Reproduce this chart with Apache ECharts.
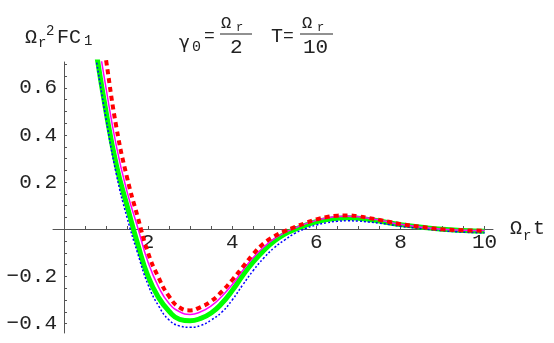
<!DOCTYPE html>
<html>
<head>
<meta charset="utf-8">
<script src="https://cdn.jsdelivr.net/npm/echarts@6/dist/echarts.min.js"></script>
<style>
  html, body { margin: 0; padding: 0; background: #fff; }
  #main { width: 554px; height: 343px; }
</style>
</head>
<body>
<div id="main"></div>
<script>
// time axis (Omega_r t)
var tValues = [0.75, 1, 1.25, 1.5, 1.75, 2, 2.25, 2.5, 2.75, 3, 3.25, 3.5, 3.75, 4, 4.25, 4.5, 4.75, 5,
  5.25, 5.5, 5.75, 6, 6.25, 6.5, 6.75, 7, 7.25, 7.5, 7.75, 8, 8.5, 9, 9.5, 10];

// curves
var greenVals = [0.775, 0.5, 0.27, 0.1, -0.06, -0.2, -0.29, -0.348, -0.382, -0.388, -0.378, -0.355, -0.315, -0.26,
  -0.196, -0.138, -0.09, -0.05, -0.02, 0.0, 0.018, 0.032, 0.041, 0.047, 0.049, 0.047, 0.042, 0.035, 0.027, 0.02,
  0.009, 0.0, -0.005, -0.008];
var blueVals = [0.74, 0.47, 0.23, 0.05, -0.1, -0.235, -0.325, -0.385, -0.41, -0.416, -0.408, -0.385, -0.352, -0.3,
  -0.236, -0.175, -0.122, -0.078, -0.045, -0.016, 0.004, 0.018, 0.028, 0.034, 0.036, 0.035, 0.031, 0.026, 0.02,
  0.013, 0.003, -0.006, -0.012, -0.015];
var magentaVals = [0.88, 0.6, 0.35, 0.16, 0.01, -0.14, -0.245, -0.315, -0.35, -0.361, -0.35, -0.325, -0.285, -0.235,
  -0.175, -0.12, -0.075, -0.04, -0.014, 0.006, 0.024, 0.038, 0.048, 0.054, 0.055, 0.053, 0.047, 0.039, 0.03, 0.021,
  0.009, 0.0, -0.004, -0.005];
var redVals = [1.02, 0.72, 0.43, 0.22, 0.055, -0.1, -0.205, -0.285, -0.332, -0.344, -0.33, -0.305, -0.265, -0.215,
  -0.16, -0.105, -0.06, -0.03, -0.008, 0.01, 0.027, 0.042, 0.052, 0.058, 0.059, 0.055, 0.048, 0.04, 0.031, 0.022,
  0.01, 0.0, -0.004, -0.006];

var xTicks = [0.5, 1, 1.5, 2, 2.5, 3, 3.5, 4, 4.5, 5, 5.5, 6, 6.5, 7, 7.5, 8, 8.5, 9, 9.5, 10];
var xLabels = [2, 4, 6, 8, 10];
var yTicks = [-0.4, -0.35, -0.3, -0.25, -0.2, -0.15, -0.1, -0.05, 0.05, 0.1, 0.15, 0.2, 0.25, 0.3, 0.35, 0.4,
  0.45, 0.5, 0.55, 0.6, 0.65, 0.7];
var yLabels = [-0.4, -0.2, 0.2, 0.4, 0.6];

var X_MIN = -0.26, X_MAX = 10.2;
var Y_MIN = -0.44, Y_MAX = 0.71;
var GRID_W = 440, GRID_H = 271;

function pairs(vals) {
  return tValues.map(function (t, i) { return [t, vals[i]]; });
}

var mono = 'Liberation Mono';
var ink = '#222';
var axisCol = '#555';

function txt(x, y, s, size, font) {
  return {
    type: 'text', x: x, y: y,
    style: { text: s, fontFamily: font || mono, fontSize: size, fill: ink, verticalAlign: 'middle' }
  };
}

var chart = echarts.init(document.getElementById('main'), null, { renderer: 'canvas' });

// axes cross at the origin: shift them in from the grid edges
var yOffset = -Math.round(-X_MIN / (X_MAX - X_MIN) * GRID_W);
var xOffset = -Math.round(-Y_MIN / (Y_MAX - Y_MIN) * GRID_H);

var option = {
  backgroundColor: '#fff',
  animation: false,
  grid: { left: 53, top: 62, width: GRID_W, height: GRID_H, containLabel: false, outerBoundsMode: 'none' },
  xAxis: {
    type: 'value', min: X_MIN, max: X_MAX, position: 'bottom', offset: xOffset,
    axisLine: { onZero: false, lineStyle: { color: axisCol, width: 1 } },
    axisTick: { inside: true, length: 3, customValues: xTicks, lineStyle: { color: axisCol } },
    axisLabel: { customValues: xLabels, fontFamily: mono, fontSize: 21, color: ink, margin: 3 },
    splitLine: { show: false }
  },
  yAxis: {
    type: 'value', min: Y_MIN, max: Y_MAX, position: 'left', offset: yOffset,
    axisLine: { onZero: false, lineStyle: { color: axisCol, width: 1 } },
    axisTick: { inside: true, length: 3, customValues: yTicks, lineStyle: { color: axisCol } },
    axisLabel: {
      customValues: yLabels, fontFamily: mono, fontSize: 21, color: ink, margin: 7,
      formatter: function (v) { return v.toFixed(1).replace('-', '\u2212'); }
    },
    splitLine: { show: false }
  },
  series: [
    { type: 'line', data: pairs(greenVals), smooth: true, symbol: 'none',
      lineStyle: { color: '#00ff00', width: 5 } },
    { type: 'line', data: pairs(blueVals), smooth: true, symbol: 'none',
      lineStyle: { color: '#0000ff', width: 1.5, type: [2, 2] } },
    { type: 'line', data: pairs(magentaVals), smooth: true, symbol: 'none',
      lineStyle: { color: '#ff00ff', width: 1.5 } },
    { type: 'line', data: pairs(redVals), smooth: true, symbol: 'none',
      lineStyle: { color: '#ff0000', width: 4, type: [5, 4] } }
  ],
  graphic: [
    // Omega_r^2 FC_1
    txt(25, 38, '\u03a9', 20),
    txt(38, 43, 'r', 14),
    txt(46, 31, '2', 14),
    txt(57, 38, 'FC', 20),
    txt(84, 41, '1', 14),
    // gamma_0 = Omega_r / 2
    txt(179, 43, '\u03b3', 18, 'DejaVu Sans'),
    txt(192, 47, '0', 15),
    txt(204, 36, '=', 18),
    txt(221, 23, '\u03a9', 17),
    txt(236, 28, 'r', 12),
    { type: 'line', shape: { x1: 220, y1: 34, x2: 252, y2: 34 }, style: { stroke: ink, lineWidth: 1 } },
    txt(230, 47, '2', 21),
    // T = Omega_r / 10
    txt(271, 37, 'T', 20),
    txt(283, 36, '=', 18),
    txt(302, 23, '\u03a9', 17),
    txt(317, 28, 'r', 12),
    { type: 'line', shape: { x1: 300, y1: 34, x2: 333, y2: 34 }, style: { stroke: ink, lineWidth: 1 } },
    txt(303, 47, '10', 21),
    // axis name Omega_r t
    txt(510, 229, '\u03a9', 20),
    txt(523, 236, 'r', 14),
    txt(533, 229, 't', 20)
  ]
};

chart.setOption(option);
</script>
</body>
</html>
